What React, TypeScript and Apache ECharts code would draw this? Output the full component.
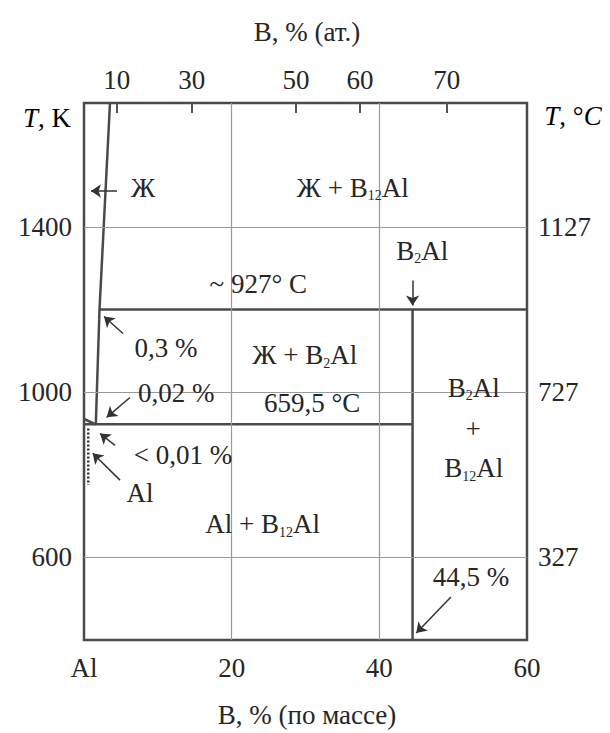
import React, { useEffect, useRef } from "react";
import * as echarts from "echarts";

const FONT = "Liberation Serif, Times New Roman, serif";
const INK = "#262626";

// bottom axis: B, % by mass
const massTicks = [0, 20, 40, 60];
const massLabels = ["Al", "20", "40", "60"];
// top axis: B, % (at.) positions expressed in mass %
const atTickPos = [4.42, 14.58, 28.71, 37.38, 49.12];
const atLabels = ["10", "30", "50", "60", "70"];
// temperature axes
const kelvinTicks = [600, 1000, 1400];
const celsiusLabels = ["327", "727", "1127"];

// phase boundaries [mass % B, K]
const liquidus = [[3.52, 1700], [2.1, 1200], [1.6, 922]];
const peritecticLine = [[2.1, 1200], [60, 1200]];
const eutecticLine = [[0, 922], [44.5, 922]];
const b2alLine = [[44.5, 400], [44.5, 1200]];
const solidusCorner = [[0, 935], [1.6, 922]];
const solvusDotted = [[0.58, 912], [0.58, 775]];

// arrows: [from, to]
const arrows = [
  [[4.47, 1487], [0.95, 1487]],
  [[5.28, 1142], [2.71, 1183]],
  [[6.23, 987], [3.07, 939]],
  [[4.2, 871], [2.17, 900]],
  [[4.88, 787], [1.18, 852]],
  [[44.5, 1270], [44.5, 1210]],
  [[49.7, 504], [45.0, 417]],
];

// annotations
const annotations = [
  { text: "{n|Ж}", at: [8.0, 1495] },
  { text: "{n|Ж + B}{s|12}{n|Al}", at: [36.4, 1495] },
  { text: "{n|B}{s|2}{n|Al}", at: [45.8, 1342] },
  { text: "{n|~ 927° C}", at: [23.6, 1263] },
  { text: "{n|0,3 %}", at: [11.1, 1106] },
  { text: "{n|Ж + B}{s|2}{n|Al}", at: [29.9, 1089] },
  { text: "{n|0,02 %}", at: [12.5, 999] },
  { text: "{n|659,5 °C}", at: [30.9, 973] },
  { text: "{n|< 0,01 %}", at: [13.4, 847] },
  { text: "{n|Al}", at: [7.6, 755] },
  { text: "{n|Al + B}{s|12}{n|Al}", at: [24.2, 680] },
  { text: "{n|B}{s|2}{n|Al}", at: [52.8, 1011] },
  { text: "{n|+}", at: [52.7, 912] },
  { text: "{n|B}{s|12}{n|Al}", at: [52.8, 816] },
  { text: "{n|44,5 %}", at: [52.4, 552] },
];

const rich = {
  n: { fontFamily: FONT, fontSize: 27, color: INK },
  s: { fontFamily: FONT, fontSize: 14, color: INK, padding: [16, 0, 0, 0] },
  i: { fontFamily: FONT, fontSize: 27, color: INK, fontStyle: "italic" },
};

const phaseLine = (data: number[][], dotted = false) => ({
  type: "line",
  data,
  symbol: "none",
  silent: true,
  z: 3,
  lineStyle: { color: dotted ? "#333" : "#4a4a4a", width: 2.5, type: dotted ? [2, 2] : "solid" },
});

export default function App() {
  const ref = useRef<HTMLDivElement>(null);
  useEffect(() => {
    if (!ref.current) return;
    const chart = echarts.init(ref.current, null, { renderer: "svg" });
    const axisLabelBase = { fontFamily: FONT, fontSize: 27, color: INK };
    chart.setOption({
      animation: false,
      textStyle: { fontFamily: FONT },
      grid: {
        left: 84, right: 83, top: 103, bottom: 93,
        show: true, borderColor: "#4a4a4a", borderWidth: 2.5, backgroundColor: "transparent",
      },
      xAxis: [
        {
          type: "value", min: 0, max: 60, interval: 20, position: "bottom",
          axisLine: { show: false }, axisTick: { show: false }, splitLine: { show: false },
          axisLabel: {
            ...axisLabelBase, margin: 14,
            formatter: (v: number) => {
              const i = massTicks.indexOf(v);
              return i >= 0 ? massLabels[i] : "";
            },
          },
        },
        {
          type: "value", min: 0, max: 60, position: "top",
          axisLine: { show: false }, splitLine: { show: false },
          axisTick: {
            show: true, inside: true, length: 10, customValues: atTickPos,
            lineStyle: { color: "#555", width: 2 },
          },
          axisLabel: {
            ...axisLabelBase, margin: 10, customValues: atTickPos,
            formatter: (v: number) => {
              let best = 0;
              atTickPos.forEach((p, i) => { if (Math.abs(p - v) < Math.abs(atTickPos[best] - v)) best = i; });
              return Math.abs(atTickPos[best] - v) < 0.5 ? atLabels[best] : "";
            },
          },
        },
      ],
      yAxis: [
        {
          type: "value", min: 400, max: 1700, interval: 200, position: "left",
          axisLine: { show: false }, axisTick: { show: false }, splitLine: { show: false },
          axisLabel: {
            ...axisLabelBase, margin: 12,
            formatter: (v: number) => (kelvinTicks.includes(v) ? String(v) : ""),
          },
        },
        {
          type: "value", min: 400, max: 1700, interval: 200, position: "right",
          axisLine: { show: false }, axisTick: { show: false }, splitLine: { show: false },
          axisLabel: {
            ...axisLabelBase, margin: 11,
            formatter: (v: number) => {
              const i = kelvinTicks.indexOf(v);
              return i >= 0 ? celsiusLabels[i] : "";
            },
          },
        },
      ],
      graphic: [
        { type: "text", x: 307, y: 32, style: { text: "B, % (ат.)", font: `27px ${FONT}`, fill: INK, align: "center", verticalAlign: "middle" } },
        { type: "text", x: 307, y: 715, style: { text: "B, % (по массе)", font: `27px ${FONT}`, fill: INK, align: "center", verticalAlign: "middle" } },
        { type: "text", x: 47, y: 118, style: { text: "{i|T}{n|, K}", rich, align: "center", verticalAlign: "middle" } },
        { type: "text", x: 573, y: 116, style: { text: "{i|T}{n|, °}{i|C}", rich, align: "center", verticalAlign: "middle" } },
      ],
      series: [
        {
          type: "line", data: [], silent: true, z: 1,
          markLine: {
            silent: true, symbol: "none", label: { show: false },
            lineStyle: { color: "#9a9a9a", width: 1.2, type: "solid" },
            data: [
              ...kelvinTicks.map((k) => ({ yAxis: k })),
              ...massTicks.filter((m) => m > 0 && m < 60).map((m) => ({ xAxis: m })),
            ],
          },
        },
        phaseLine(liquidus),
        phaseLine(peritecticLine),
        phaseLine(eutecticLine),
        phaseLine(b2alLine),
        phaseLine(solidusCorner),
        phaseLine(solvusDotted, true),
        {
          type: "line", data: [], silent: true, z: 4,
          markLine: {
            silent: true, symbol: ["none", "arrow"], symbolSize: 10, label: { show: false },
            lineStyle: { color: "#333", width: 1.5, type: "solid" },
            itemStyle: { color: "#333" },
            data: arrows.map(([a, b]) => [{ coord: a }, { coord: b }]),
          },
        },
        {
          type: "scatter", symbolSize: 0, silent: true, z: 5,
          itemStyle: { opacity: 1 },
          data: annotations.map((a) => ({
            value: a.at,
            itemStyle: { opacity: 1 },
            label: {
              show: true, position: "inside", formatter: a.text, rich, opacity: 1,
              color: INK, fontFamily: FONT, fontSize: 27, textBorderWidth: 0,
            },
          })),
        },
      ],
    });
    return () => chart.dispose();
  }, []);
  return <div ref={ref} style={{ width: 610, height: 733, position: "absolute", left: 0, top: 0 }} />;
}
